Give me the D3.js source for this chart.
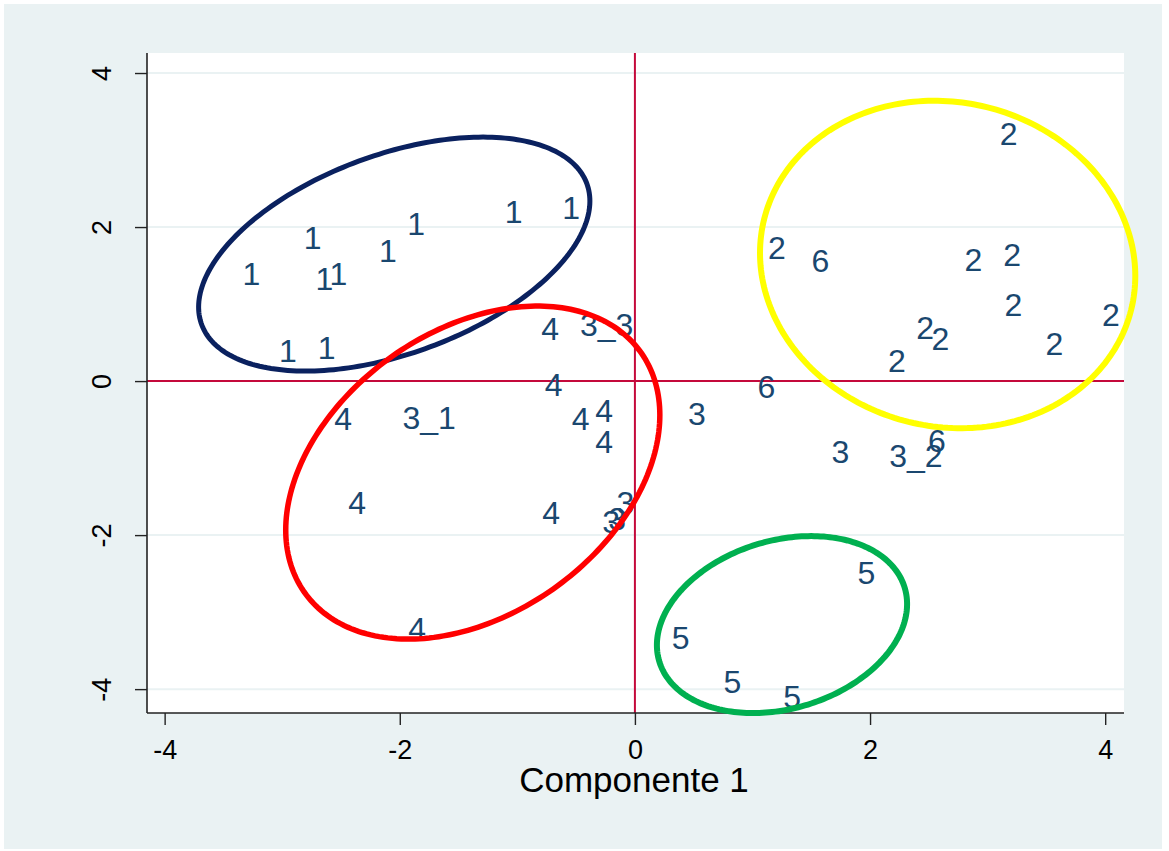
<!DOCTYPE html>
<html>
<head>
<meta charset="utf-8">
<script src="https://cdn.jsdelivr.net/npm/d3@7"></script>
<style>
  body { margin: 0; background: #fff; }
  svg { display: block; font-family: "Liberation Sans", Arial, sans-serif; }
</style>
</head>
<body>
<svg width="1169" height="851"></svg>
<script>
// cluster labels and their coordinates (Componente 1, Componente 2)
const pointLabels = ["1","1","1","1","1","1","1","1","1","1",
  "2","2","2","2","2","2","2","2","2","2",
  "3","3","3","3","3","3_1","3_2","3_3",
  "4","4","4","4","4","4","4","4","4",
  "5","5","5","5",
  "6","6","6"];
const pointX = [-2.86, -1.98, -3.38, -2.76, -2.64, -2.22, -3.07, -2.74, -1.15, -0.66,
  3.06, 1.09, 2.76, 3.09, 3.10, 3.93, 2.35, 2.48, 3.45, 2.11,
  0.41, 1.63, -0.20, -0.32, -0.27, -2.02, 2.12, -0.51,
  -0.84, -0.81, -2.60, -0.58, -0.38, -0.38, -2.48, -0.83, -1.97,
  1.85, 0.27, 0.71, 1.22,
  1.00, 1.46, 2.45];
const pointY = [1.87, 2.05, 1.40, 1.33, 1.40, 1.70, 0.40, 0.44, 2.20, 2.25,
  3.22, 1.74, 1.58, 1.65, 0.99, 0.87, 0.69, 0.55, 0.49, 0.27,
  -0.42, -0.92, -1.57, -1.82, -1.78, -0.47, -0.96, 0.73,
  0.68, -0.05, -0.48, -0.49, -0.38, -0.78, -1.57, -1.70, -3.21,
  -2.48, -3.33, -3.90, -4.10,
  -0.07, 1.57, -0.77];

// cluster ellipses: centre, half width, half height, tilt (correlation-like)
const ellipseColors = ["#0a215f", "#ff0000", "#ffff00", "#00b050"];
const ellipseCx   = [-2.047, -1.379, 2.660, 1.251];
const ellipseCy   = [1.649, -1.188, 1.514, -3.162];
const ellipseRx   = [1.664, 1.591, 1.596, 1.064];
const ellipseRy   = [1.519, 2.162, 2.126, 1.149];
const ellipseTilt = [0.453, 0.345, -0.070, 0.232];
const ellipseWidth = [5, 5.5, 6, 6];

const xTicks = [-4, -2, 0, 2, 4];
const yTicks = [-4, -2, 0, 2, 4];

const svg = d3.select("svg");
const plotL = 147, plotR = 1124, plotT = 53, plotB = 713;

// outer graph region
svg.append("rect").attr("x", 4).attr("y", 4).attr("width", 1158).attr("height", 845)
  .attr("fill", "#eaf2f3");
svg.append("rect").attr("x", plotL).attr("y", plotT).attr("width", plotR - plotL).attr("height", plotB - plotT)
  .attr("fill", "#fff");

const x = d3.scaleLinear().domain([-4.15, 4.16]).range([plotL, plotR]);
const y = d3.scaleLinear().domain([-4.31, 4.26]).range([plotB, plotT]);

// gridlines
svg.append("g").selectAll("line").data(yTicks).join("line")
  .attr("x1", plotL).attr("x2", plotR)
  .attr("y1", d => y(d)).attr("y2", d => y(d))
  .attr("stroke", "#eaf2f3").attr("stroke-width", 2);

// zero lines
svg.append("line").attr("x1", x(0)).attr("x2", x(0)).attr("y1", plotT).attr("y2", plotB)
  .attr("stroke", "#c4093b").attr("stroke-width", 2);
svg.append("line").attr("x1", plotL).attr("x2", plotR).attr("y1", y(0)).attr("y2", y(0))
  .attr("stroke", "#c4093b").attr("stroke-width", 2);

// axes (plain hyphen for negatives, like Stata)
const fmt = d => String(d);
const xAxis = svg.append("g").attr("transform", `translate(0,${plotB})`)
  .call(d3.axisBottom(x).tickValues(xTicks).tickSizeInner(12).tickSizeOuter(0).tickFormat(fmt));
const yAxis = svg.append("g").attr("transform", `translate(${plotL},0)`)
  .call(d3.axisLeft(y).tickValues(yTicks).tickSizeInner(12).tickSizeOuter(0).tickFormat(fmt));

[xAxis, yAxis].forEach(g => {
  g.select(".domain").attr("stroke", "#222").attr("stroke-width", 1.6);
  g.selectAll(".tick line").attr("stroke", "#222").attr("stroke-width", 1.4);
  g.selectAll("text").attr("fill", "#000").style("font-size", "27px")
    .style("font-family", "'Liberation Sans', Arial, sans-serif");
});
xAxis.selectAll(".tick text").attr("y", 46).attr("dy", 0);
xAxis.select(".domain").attr("d", `M${plotL},0H${plotR}`);
yAxis.select(".domain").attr("d", `M0,${plotT}V${plotB}`);
yAxis.selectAll(".tick text").attr("x", 0).attr("dy", 0)
  .attr("text-anchor", "middle")
  .attr("transform", "translate(-36,0) rotate(-90)");

// axis title
svg.append("text").attr("x", 634).attr("y", 792)
  .attr("text-anchor", "middle").style("font-size", "35px").attr("fill", "#000")
  .text("Componente 1");

// marker labels (position 3 o'clock, no symbols)
svg.append("g").selectAll("text").data(pointLabels).join("text")
  .attr("x", (d, i) => x(pointX[i]) + 5)
  .attr("y", (d, i) => y(pointY[i]))
  .attr("dy", "0.36em")
  .style("font-size", "32px")
  .attr("fill", "#1a476f")
  .text(d => d);

// ellipses drawn on top
const line = d3.line().curve(d3.curveLinearClosed);
const steps = d3.range(0, 2 * Math.PI, Math.PI / 120);
ellipseColors.forEach((c, k) => {
  const r = ellipseTilt[k], s = Math.sqrt(1 - r * r);
  const pts = steps.map(t => [
    x(ellipseCx[k] + ellipseRx[k] * Math.cos(t)),
    y(ellipseCy[k] + ellipseRy[k] * (r * Math.cos(t) + s * Math.sin(t)))
  ]);
  svg.append("path").attr("d", line(pts))
    .attr("fill", "none").attr("stroke", c).attr("stroke-width", ellipseWidth[k]);
});
</script>
</body>
</html>
